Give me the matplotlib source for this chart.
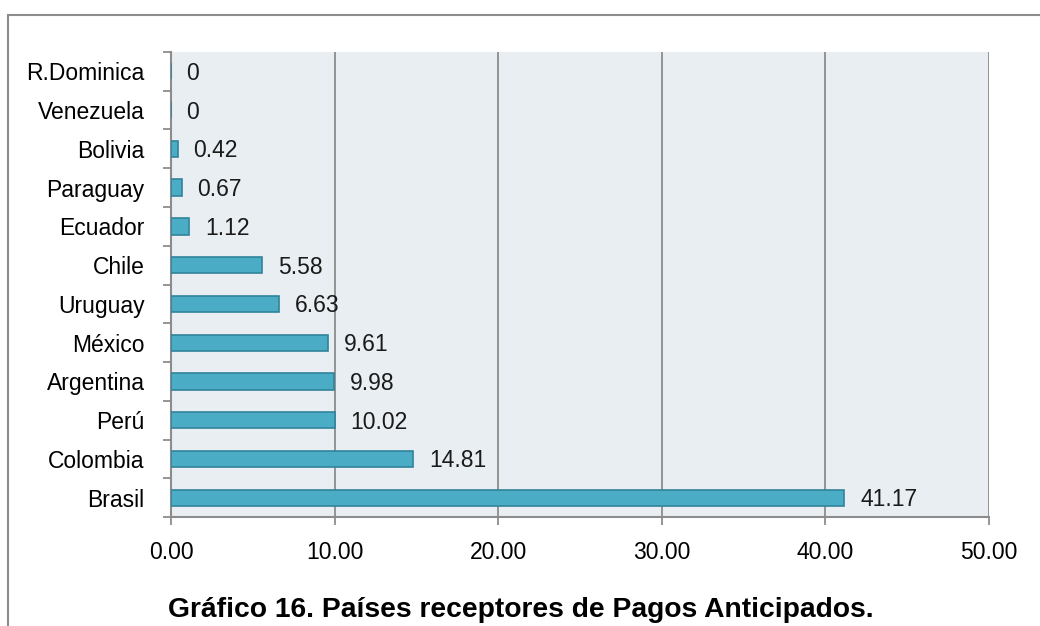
import matplotlib.pyplot as plt
from matplotlib.patches import Rectangle

plt.rcParams['font.family'] = ['Liberation Sans', 'DejaVu Sans']

paises = ['Brasil', 'Colombia', 'Perú', 'Argentina', 'México', 'Uruguay',
          'Chile', 'Ecuador', 'Paraguay', 'Bolivia', 'Venezuela', 'R.Dominica']
valores = [41.17, 14.81, 10.02, 9.98, 9.61, 6.63, 5.58, 1.12, 0.67, 0.42, 0, 0]
xticks = [0, 10, 20, 30, 40, 50]

fig = plt.figure(figsize=(10.4, 6.26), dpi=100)
ax = fig.add_axes([0.1644, 0.174, 0.7865, 0.743])

# marco exterior
fig.patches.append(Rectangle((8 / 1040, -0.1), 1.2, 1 - 15 / 626 + 0.1,
                             transform=fig.transFigure, fill=False,
                             edgecolor='#8c8c8c', linewidth=1.5))

ax.set_facecolor('#e8eef2')
pos = range(len(paises))
ax.barh(pos, valores, height=0.42, color='#4bacc6', edgecolor='#31849b',
        linewidth=1.2, zorder=3)

for i, v in enumerate(valores):
    txt = '0' if v == 0 else f'{v:g}'
    ax.text(v + 0.95, i - 0.05, txt, va='center', ha='left', fontsize=16.5,
            color='#1a1a1a', zorder=4)

ax.set_xlim(0, 50)
ax.set_ylim(-0.5, len(paises) - 0.5)
ax.set_xticks(xticks)
ax.set_xticklabels([f'{t:.2f}' for t in xticks], fontsize=16.5)
ax.xaxis.grid(True, color='#8c8c8c', linewidth=1.3, zorder=1)

ax.set_yticks(list(pos))
ax.set_yticklabels(paises, fontsize=16.5)
ax.set_yticks([i - 0.5 for i in range(len(paises) + 1)], minor=True)
ax.tick_params(axis='y', which='major', length=0, pad=19)
ax.tick_params(axis='y', which='minor', length=6, width=1.3, color='#8c8c8c')
ax.tick_params(axis='x', length=6, width=1.3, color='#8c8c8c', pad=11)

ax.spines['top'].set_visible(False)
ax.spines['right'].set_visible(False)
ax.spines['left'].set_color('#8c8c8c')
ax.spines['left'].set_linewidth(1.5)
ax.spines['bottom'].set_color('#8c8c8c')
ax.spines['bottom'].set_linewidth(1.5)

fig.text(0.501, 0.026, 'Gráfico 16. Países receptores de Pagos Anticipados.',
         ha='center', va='center', fontsize=20.3, fontweight='bold')

fig.savefig('out.png', dpi=100)
